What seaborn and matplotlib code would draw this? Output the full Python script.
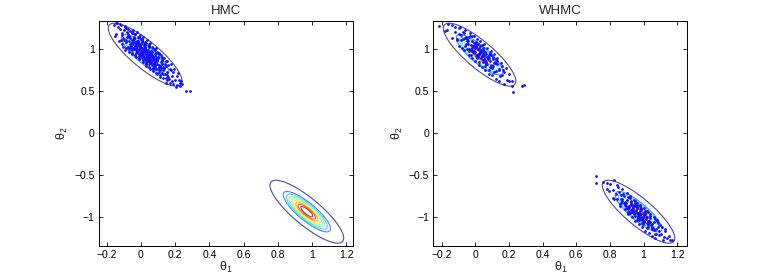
import numpy as np
import pandas as pd
import matplotlib
matplotlib.use('Agg')
import matplotlib.pyplot as plt
import seaborn as sns

# samples (theta1, theta2)
hmc_upper = [
    (-0.156, 1.283), (-0.147, 1.181), (-0.139, 1.311), (-0.111, 1.188), (-0.123, 1.238), (-0.114, 1.108),
    (-0.109, 1.165), (-0.098, 1.225), (-0.105, 1.135), (-0.092, 1.275), (-0.101, 1.105),
    (-0.075, 1.162), (-0.088, 1.112), (-0.077, 1.182), (-0.073, 1.022), (-0.084, 1.142), (-0.080, 1.202),
    (-0.086, 1.092), (-0.071, 1.162),
    (-0.062, 1.029), (-0.056, 1.079), (-0.067, 1.149), (-0.059, 1.019), (-0.051, 1.109), (-0.063, 1.059),
    (-0.054, 1.189), (-0.069, 1.099), (-0.058, 1.039), (-0.065, 1.129), (-0.052, 0.989),
    (-0.041, 1.127), (-0.035, 1.037), (-0.048, 1.087), (-0.037, 1.017), (-0.033, 1.177), (-0.044, 1.057),
    (-0.040, 0.997), (-0.046, 1.107), (-0.031, 1.037), (-0.042, 1.137), (-0.036, 1.087), (-0.047, 1.017),
    (-0.039, 1.147), (-0.031, 1.057),
    (-0.023, 1.074), (-0.014, 0.944), (-0.029, 1.034), (-0.018, 1.094), (-0.025, 1.004), (-0.012, 1.144),
    (-0.021, 0.974), (-0.015, 1.064), (-0.028, 1.014), (-0.017, 1.084), (-0.013, 0.924), (-0.024, 1.044),
    (-0.020, 1.104), (-0.026, 0.994), (-0.011, 1.064), (-0.022, 0.964),
    (0.004, 0.981), (-0.007, 1.051), (0.001, 0.921), (0.009, 1.011), (-0.003, 0.961), (0.006, 1.091),
    (-0.009, 1.001), (0.002, 0.941), (-0.005, 1.031), (0.008, 0.891), (-0.001, 1.061), (0.005, 0.971),
    (-0.008, 1.021), (0.003, 0.951), (0.007, 1.111), (-0.004, 0.991), (0.000, 0.931), (-0.006, 1.041),
    (0.029, 0.938), (0.018, 1.038), (0.024, 0.988), (0.013, 0.918), (0.021, 1.048), (0.029, 0.958),
    (0.017, 1.008), (0.026, 0.878), (0.011, 0.968), (0.022, 1.028), (0.015, 0.938), (0.028, 1.078),
    (0.019, 0.908), (0.025, 0.998), (0.012, 0.948), (0.023, 1.018), (0.027, 0.858), (0.016, 0.978),
    (0.020, 1.058),
    (0.034, 0.895), (0.049, 0.965), (0.038, 0.865), (0.044, 0.915), (0.033, 0.985), (0.041, 0.855),
    (0.049, 0.945), (0.037, 0.905), (0.046, 1.025), (0.031, 0.935), (0.042, 0.875), (0.035, 0.965),
    (0.048, 0.825), (0.039, 0.995), (0.045, 0.897), (0.032, 0.955), (0.043, 0.885), (0.047, 1.045),
    (0.036, 0.925),
    (0.060, 0.833), (0.054, 0.943), (0.069, 0.873), (0.058, 0.973), (0.064, 0.923), (0.053, 0.853),
    (0.061, 0.983), (0.069, 0.893), (0.057, 0.948), (0.066, 0.813), (0.051, 0.903), (0.062, 0.963),
    (0.055, 0.873), (0.068, 1.013), (0.059, 0.843), (0.065, 0.933), (0.052, 0.883),
    (0.083, 0.920), (0.087, 0.760), (0.076, 0.880), (0.080, 0.940), (0.074, 0.830), (0.089, 0.900),
    (0.078, 0.800), (0.084, 0.850), (0.073, 0.910), (0.081, 0.790), (0.089, 0.870), (0.077, 0.840),
    (0.086, 0.960), (0.071, 0.870), (0.082, 0.810),
    (0.095, 0.867), (0.108, 0.727), (0.099, 0.897), (0.105, 0.807), (0.092, 0.857), (0.103, 0.787),
    (0.107, 0.947), (0.096, 0.827), (0.100, 0.767), (0.094, 0.877), (0.109, 0.797), (0.098, 0.907),
    (0.124, 0.824), (0.113, 0.754), (0.121, 0.884), (0.129, 0.794), (0.117, 0.844), (0.126, 0.714),
    (0.111, 0.804), (0.122, 0.864), (0.115, 0.774),
    (0.148, 0.860), (0.139, 0.711), (0.145, 0.801), (0.132, 0.751), (0.143, 0.821), (0.147, 0.661),
    (0.136, 0.781),
    (0.160, 0.809), (0.154, 0.699), (0.169, 0.769), (0.158, 0.669),
    (0.184, 0.686), (0.173, 0.756), (0.181, 0.626),
    (0.209, 0.683), (0.197, 0.633), (0.226, 0.600), (0.242, 0.580),
    (0.265, 0.505), (0.285, 0.500), (0.205, 0.555),
    # outer part of the cloud
    (-0.150, 1.160), (-0.145, 1.310), (-0.130, 1.100), (-0.125, 1.300), (-0.135, 1.270),
    (-0.110, 1.060), (-0.115, 1.290), (-0.105, 1.030), (-0.090, 1.020), (-0.095, 1.270),
    (-0.085, 1.250), (-0.092, 0.990), (-0.070, 0.970), (-0.075, 1.240), (-0.065, 1.220),
    (-0.072, 1.000), (-0.050, 0.940), (-0.055, 1.210), (-0.045, 1.190), (-0.052, 0.960),
    (-0.048, 1.230), (-0.030, 0.910), (-0.035, 1.180), (-0.025, 1.200), (-0.032, 0.930),
    (-0.027, 0.950), (-0.010, 0.880), (-0.015, 1.150), (-0.005, 1.170), (-0.012, 0.900),
    (-0.008, 1.130), (0.010, 0.850), (0.005, 1.120), (0.015, 1.140), (0.012, 0.870),
    (0.008, 1.100), (0.030, 0.820), (0.025, 1.090), (0.035, 1.110), (0.032, 0.840),
    (0.028, 0.800), (0.050, 0.790), (0.045, 1.060), (0.055, 1.080), (0.052, 0.770),
    (0.048, 1.040), (0.070, 0.760), (0.065, 1.030), (0.075, 1.000), (0.072, 0.740),
    (0.068, 0.780), (0.090, 0.720), (0.085, 0.990), (0.095, 0.970), (0.092, 0.700),
    (0.088, 1.010), (0.110, 0.690), (0.105, 0.950), (0.115, 0.930), (0.112, 0.670),
    (0.130, 0.660), (0.125, 0.910), (0.135, 0.890), (0.132, 0.700), (0.150, 0.630),
    (0.155, 0.860), (0.145, 0.600), (0.152, 0.730), (0.170, 0.600), (0.175, 0.820),
    (0.165, 0.640), (0.190, 0.580), (0.195, 0.760), (0.185, 0.730), (0.210, 0.570),
    (0.215, 0.720), (0.220, 0.630), (0.235, 0.620), (0.230, 0.560),
]

whmc_upper = [
    (-0.215, 1.280), (-0.166, 1.233), (-0.137, 1.291), (-0.112, 1.118), (-0.122, 1.208),
    (-0.095, 1.255), (-0.109, 1.115), (-0.099, 1.185),
    (-0.073, 1.122), (-0.084, 1.172), (-0.080, 1.012), (-0.074, 1.202), (-0.087, 1.112),
    (-0.058, 1.149), (-0.063, 1.039), (-0.051, 1.099), (-0.065, 1.199), (-0.056, 1.059), (-0.061, 1.129),
    (-0.048, 0.997), (-0.035, 1.147), (-0.046, 1.097), (-0.037, 1.007), (-0.032, 1.157), (-0.042, 1.057),
    (-0.035, 0.977), (-0.049, 1.117),
    (-0.019, 1.014), (-0.013, 1.044), (-0.024, 0.994), (-0.020, 1.154), (-0.014, 0.964), (-0.027, 1.054),
    (-0.018, 0.984), (-0.023, 1.094), (-0.011, 1.034), (-0.025, 0.934),
    (0.004, 1.041), (-0.001, 0.971), (-0.008, 1.071), (0.005, 0.921), (-0.006, 0.981), (0.003, 1.061),
    (0.009, 0.930), (-0.002, 1.011), (0.005, 1.091), (-0.009, 0.951), (0.001, 1.021),
    (0.027, 0.958), (0.016, 1.008), (0.020, 0.848), (0.026, 1.038), (0.013, 0.948), (0.022, 1.018),
    (0.017, 0.908), (0.029, 0.968), (0.015, 1.068), (0.024, 0.928), (0.019, 0.998), (0.012, 0.898),
    (0.045, 1.015), (0.034, 0.965), (0.043, 0.875), (0.048, 0.995), (0.038, 0.925), (0.045, 0.845),
    (0.031, 0.985), (0.041, 0.915), (0.047, 0.945), (0.036, 0.895), (0.040, 1.055),
    (0.066, 0.833), (0.053, 0.923), (0.062, 0.853), (0.057, 0.963), (0.069, 0.903), (0.055, 0.803),
    (0.064, 0.943), (0.059, 0.873), (0.052, 0.973), (0.065, 0.823), (0.054, 0.883),
    (0.083, 0.930), (0.088, 0.790), (0.078, 0.880), (0.085, 0.960), (0.071, 0.820), (0.081, 0.890),
    (0.087, 0.860), (0.076, 0.910), (0.080, 0.750),
    (0.106, 0.907), (0.093, 0.817), (0.102, 0.887), (0.097, 0.777), (0.109, 0.837), (0.095, 0.937),
    (0.104, 0.797),
    (0.119, 0.834), (0.112, 0.734), (0.125, 0.884), (0.114, 0.844), (0.123, 0.744), (0.128, 0.864),
    (0.138, 0.761), (0.145, 0.681), (0.131, 0.821), (0.141, 0.751),
    (0.167, 0.749), (0.156, 0.699), (0.160, 0.800),
    (0.186, 0.636), (0.173, 0.726), (0.202, 0.623),
    (0.225, 0.490), (0.280, 0.565), (0.292, 0.575), (0.215, 0.560),
    (-0.140, 1.130), (-0.120, 1.270), (-0.100, 1.040), (-0.090, 1.260), (-0.070, 0.990),
    (-0.060, 1.230), (-0.040, 0.930), (-0.030, 1.190), (-0.020, 0.900), (-0.010, 1.160),
    (0.000, 0.860), (0.010, 1.120), (0.020, 0.810), (0.030, 1.100), (0.040, 0.790),
    (0.050, 1.060), (0.060, 0.750), (0.070, 1.020), (0.080, 0.710), (0.090, 0.980),
    (0.100, 0.690), (0.110, 0.940), (0.120, 0.650), (0.130, 0.900), (0.140, 0.620),
    (0.150, 0.840), (0.170, 0.580), (0.180, 0.780), (0.200, 0.700), (0.220, 0.620),
    (-0.180, 1.220), (-0.160, 1.300),
]

whmc_lower = [
    (0.720, -0.515), (0.720, -0.595), (0.827, -0.554),
    (0.782, -0.590), (0.792, -0.693), (0.826, -0.786), (0.817, -0.676),
    (0.849, -0.639), (0.840, -0.779), (0.835, -0.729),
    (0.864, -0.831), (0.851, -0.701), (0.867, -0.781), (0.859, -0.871), (0.863, -0.731),
    (0.874, -0.804), (0.888, -0.854), (0.878, -0.724), (0.885, -0.834), (0.873, -0.784), (0.881, -0.744),
    (0.909, -0.907), (0.896, -0.827), (0.902, -0.887), (0.892, -0.817), (0.906, -0.757), (0.897, -0.867),
    (0.909, -0.937), (0.900, -0.797),
    (0.915, -0.880), (0.924, -0.810), (0.911, -0.940), (0.927, -0.860), (0.919, -0.770), (0.923, -0.910),
    (0.914, -0.870), (0.928, -0.820), (0.918, -0.950), (0.925, -0.840),
    (0.933, -0.923), (0.941, -0.963), (0.949, -0.833), (0.936, -0.893), (0.942, -0.853), (0.932, -0.943),
    (0.946, -0.983), (0.937, -0.873), (0.949, -0.803), (0.944, -0.943), (0.935, -0.903),
    (0.964, -0.995), (0.951, -0.865), (0.967, -0.945), (0.959, -1.035), (0.963, -0.895), (0.954, -0.935),
    (0.968, -0.985), (0.958, -0.855), (0.965, -0.965), (0.953, -0.915), (0.961, -0.875), (0.969, -1.005),
    (0.976, -0.958), (0.982, -1.018), (0.972, -0.948), (0.986, -0.888), (0.977, -0.998), (0.989, -1.068),
    (0.980, -0.928), (0.975, -0.978), (0.984, -0.908), (0.971, -1.038), (0.987, -0.958), (0.979, -0.868),
    (1.003, -1.041), (0.994, -1.001), (1.008, -0.951), (0.998, -1.081), (1.005, -0.971), (0.993, -1.021),
    (1.001, -1.061), (1.009, -0.931), (0.996, -1.016), (1.002, -0.951), (0.991, -1.031),
    (1.026, -1.114), (1.017, -1.004), (1.029, -0.934), (1.020, -1.074), (1.015, -1.024), (1.024, -1.094),
    (1.011, -0.964), (1.027, -1.044), (1.019, -1.134), (1.023, -0.994),
    (1.034, -1.067), (1.048, -1.117), (1.038, -0.987), (1.045, -1.097), (1.033, -1.047), (1.041, -1.007),
    (1.049, -1.137), (1.036, -1.057),
    (1.062, -1.149), (1.052, -1.079), (1.066, -1.019), (1.057, -1.129), (1.069, -1.199), (1.060, -1.059),
    (1.075, -1.142), (1.084, -1.072), (1.071, -1.202), (1.087, -1.122), (1.079, -1.032),
    (1.103, -1.205), (1.094, -1.165), (1.108, -1.115),
    (1.118, -1.278), (1.125, -1.168), (1.137, -1.251), (1.158, -1.270), (1.170, -1.270),
    (0.800, -0.600), (0.820, -0.770), (0.840, -0.620), (0.860, -0.840), (0.870, -0.660),
    (0.890, -0.900), (0.900, -0.710), (0.910, -0.960), (0.920, -0.750), (0.930, -1.000),
    (0.940, -0.790), (0.950, -1.040), (0.960, -0.830), (0.970, -1.080), (0.980, -0.860),
    (0.990, -1.120), (1.000, -0.890), (1.010, -1.160), (1.020, -0.930), (1.030, -1.190),
    (1.040, -0.960), (1.050, -1.220), (1.060, -1.000), (1.070, -1.250), (1.080, -1.050),
    (1.090, -1.210), (1.100, -1.090), (1.120, -1.240), (1.130, -1.140), (1.150, -1.220),
    (0.760, -0.580), (0.780, -0.660),
]

# target density: two correlated gaussian modes
mode_means = [(0.025, 0.935), (0.970, -0.935)]
mode_sd = (0.077, 0.134)
mode_rho = -0.84
contour_levels = [0.02, 0.2, 0.3, 0.4, 0.5, 0.6, 0.7, 0.8, 0.9]

x_ticks = [-0.2, 0, 0.2, 0.4, 0.6, 0.8, 1, 1.2]
y_ticks = [-1, -0.5, 0, 0.5, 1]

sns.set_style('ticks')
plt.rcParams['font.family'] = ['Liberation Sans', 'DejaVu Sans']
plt.rcParams['mathtext.fontset'] = 'custom'
plt.rcParams['mathtext.rm'] = 'Liberation Sans'
plt.rcParams['axes.unicode_minus'] = True


def density(X, Y):
    sx, sy = mode_sd
    Z = np.zeros_like(X)
    for mx, my in mode_means:
        u = (X - mx) / sx
        v = (Y - my) / sy
        q = (u ** 2 - 2 * mode_rho * u * v + v ** 2) / (1 - mode_rho ** 2)
        Z = np.maximum(Z, np.exp(-0.5 * q))
    return Z


def fmt(v, pos):
    return f'{v:g}'.replace('-', '\u2212')


fig = plt.figure(figsize=(7.61, 2.77), dpi=100)
panels = [
    ('HMC', [0.1301, 0.113, 0.3338, 0.8123], (-0.245, 1.24), [hmc_upper]),
    ('WHMC', [0.5694, 0.113, 0.3338, 0.8123], (-0.25, 1.26), [whmc_upper, whmc_lower]),
]

for title, rect, xlim, clouds in panels:
    ax = fig.add_axes(rect)
    gx = np.linspace(xlim[0], xlim[1], 400)
    gy = np.linspace(-1.34, 1.34, 400)
    X, Y = np.meshgrid(gx, gy)
    ax.contour(X, Y, density(X, Y), levels=contour_levels, cmap='jet', linewidths=0.8,
               alpha=0.7, zorder=2)

    pts = pd.DataFrame([p for c in clouds for p in c], columns=['t1', 't2'])
    sns.scatterplot(data=pts, x='t1', y='t2', ax=ax, color='#1010ff', marker='o', s=4,
                    linewidth=0, zorder=3)

    ax.set_xlim(*xlim)
    ax.set_ylim(-1.34, 1.34)
    ax.set_xticks(x_ticks)
    ax.set_yticks(y_ticks)
    ax.xaxis.set_major_formatter(plt.FuncFormatter(fmt))
    ax.yaxis.set_major_formatter(plt.FuncFormatter(fmt))
    ax.tick_params(direction='in', length=3, width=0.6, labelsize=7.5, pad=3,
                   top=True, right=True, colors='black')
    for s in ax.spines.values():
        s.set_visible(True)
        s.set_linewidth(0.7)
        s.set_color('black')
    ax.set_xlabel(r'$\mathrm{\theta_1}$', fontsize=9, labelpad=0)
    ax.set_ylabel(r'$\mathrm{\theta_2}$', fontsize=9, labelpad=3)
    ax.set_title(title, fontsize=9.5, pad=5)

fig.savefig('out.png', dpi=100)
